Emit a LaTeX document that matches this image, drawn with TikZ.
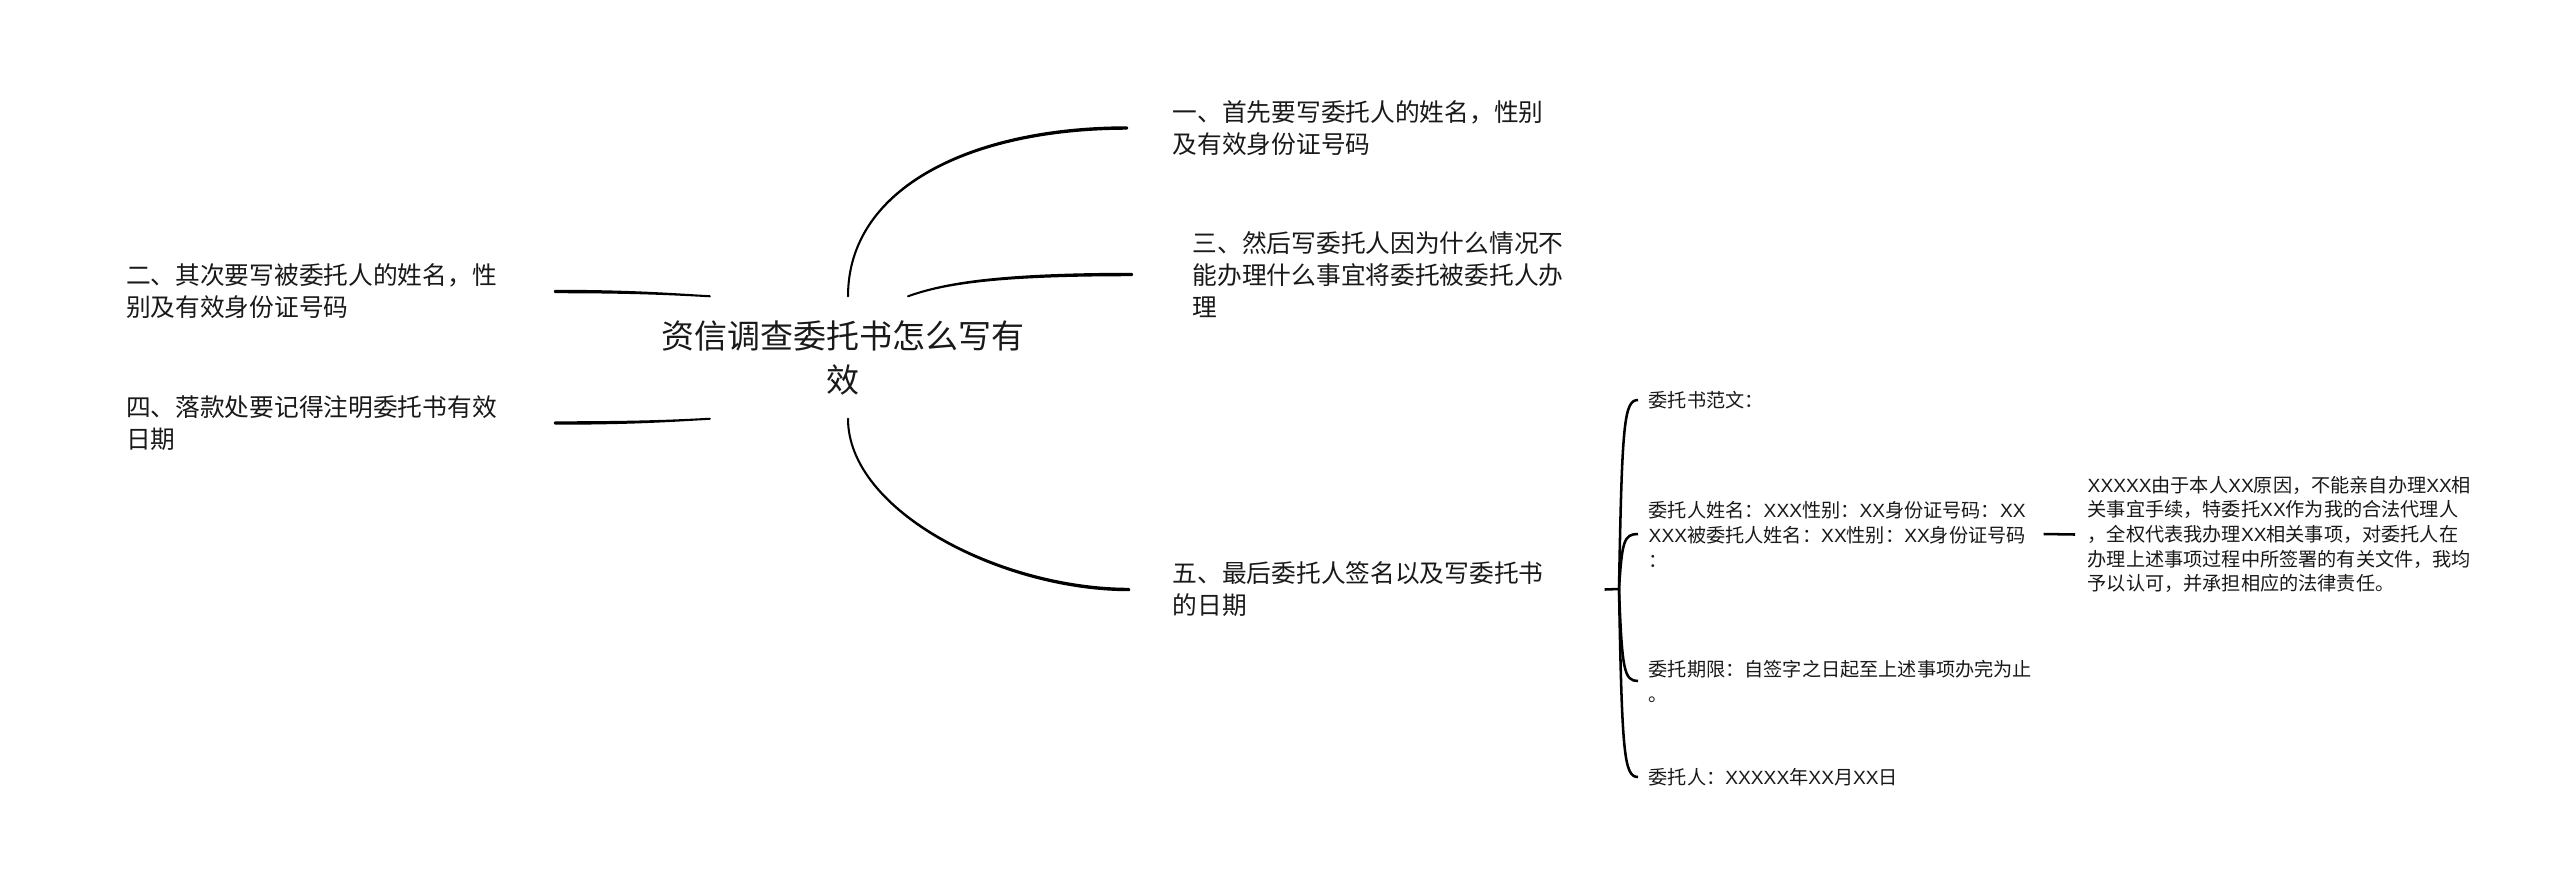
\documentclass[tikz,border=0pt]{standalone}
\usepackage{fontspec}
\setmainfont{Noto Sans CJK SC}
\newfontfamily\latf{Liberation Sans}
\newcommand{\xx}[1]{{\latf #1}}
\begin{document}
\begin{tikzpicture}[x=0.01cm,y=-0.01cm,
  txt/.style={inner ysep=0pt, align=left, text=black!90},
  big/.style={font=\fontsize{9.38pt}{12.5pt}\selectfont},
  mid/.style={font=\fontsize{7.03pt}{9.1pt}\selectfont},
  sml/.style={font=\fontsize{5.45pt}{7.1pt}\selectfont},
  conn/.style={line width=0.58pt, fill=black, line join=round},
  brace/.style={line width=0.72pt}]
\useasboundingbox[fill=white] (0,0) rectangle (2560,881);

% root
\node[txt, big, align=center, inner xsep=0pt, minimum height=1.21cm] (root) at (843,357.5) {资信调查委托书怎么写有\\效};

% right branches
\node[txt, mid, anchor=west, inner xsep=0.45cm, text width=3.75cm] (n1) at (1127,128) {一、首先要写委托人的姓名，性别\\及有效身份证号码};
\node[txt, mid, anchor=west, inner xsep=0.60cm, text width=3.75cm] (n3) at (1132,274.5) {三、然后写委托人因为什么情况不\\能办理什么事宜将委托被委托人办\\理};
\node[txt, mid, anchor=west, inner xsep=0.43cm, text width=3.72cm] (n5) at (1129,589.5) {五、最后委托人签名以及写委托书\\的日期};

% left branches
\node[txt, mid, anchor=east, inner xsep=0.56cm, text width=3.72cm] (n2) at (555,291.5) {二、其次要写被委托人的姓名，性\\别及有效身份证号码};
\node[txt, mid, anchor=east, inner xsep=0.56cm, text width=3.72cm] (n4) at (555,423) {四、落款处要记得注明委托书有效\\日期};

% sub items of 五
\coordinate (br) at (1619,589);
\node[txt, sml, anchor=west, inner xsep=0.10cm, text width=3.75cm] (s1) at (1638,400) {委托书范文：};
\node[txt, sml, anchor=west, inner xsep=0.10cm, text width=3.85cm] (s2) at (1638,534) {委托人姓名：\xx{XXX}性别：\xx{XX}身份证号码：\xx{XX}\\\xx{XXX}被委托人姓名：\xx{XX}性别：\xx{XX}身份证号码\\：};
\node[txt, sml, anchor=west, inner xsep=0.10cm, text width=3.90cm] (s3) at (1638,681) {委托期限：自签字之日起至上述事项办完为止\\。};
\node[txt, sml, anchor=west, inner xsep=0.10cm, text width=3.75cm] (s4) at (1638,777) {委托人：\xx{XXXXX}年\xx{XX}月\xx{XX}日};

% leaf
\node[txt, sml, anchor=west, inner xsep=0.12cm, text width=3.95cm, font=\fontsize{5.45pt}{7pt}\selectfont] (leaf) at (2075,534.5) {\xx{XXXXX}由于本人\xx{XX}原因，不能亲自办理\xx{XX}相\\关事宜手续，特委托\xx{XX}作为我的合法代理人\\，全权代表我办理\xx{XX}相关事项，对委托人在\\办理上述事项过程中所签署的有关文件，我均\\予以认可，并承担相应的法律责任。};

% main connectors (tapered: thin at the root, thicker at the child)
\filldraw[conn] ([xshift=0.05cm]root.north) .. controls (848,186.5) and (973.5,127.3) .. ([yshift=0.007cm]n1.west)
  -- ([yshift=-0.007cm]n1.west) .. controls (973.5,128.7) and (848,186.5) .. ([xshift=0.05cm]root.north) -- cycle;
\filldraw[conn] ([xshift=0.65cm]root.north) .. controls (945,283) and (1000,273.8) .. ([yshift=0.007cm]n3.west)
  -- ([yshift=-0.007cm]n3.west) .. controls (1000,275.2) and (945,283) .. ([xshift=0.65cm]root.north) -- cycle;
\filldraw[conn] ([xshift=0.05cm]root.south) .. controls (848,511.5) and (1002,588.8) .. ([yshift=0.007cm]n5.west)
  -- ([yshift=-0.007cm]n5.west) .. controls (1002,590.2) and (848,511.5) .. ([xshift=0.05cm]root.south) -- cycle;
\filldraw[conn] ([xshift=0.49cm]root.north west) .. controls (670,294) and (630,290.8) .. ([yshift=0.007cm]n2.east)
  -- ([yshift=-0.007cm]n2.east) .. controls (630,292.2) and (670,294) .. ([xshift=0.49cm]root.north west) -- cycle;
\filldraw[conn] ([xshift=0.49cm]root.south west) .. controls (670,421) and (630,422.3) .. ([yshift=0.007cm]n4.east)
  -- ([yshift=-0.007cm]n4.east) .. controls (630,423.7) and (670,421) .. ([xshift=0.49cm]root.south west) -- cycle;

% brace
\draw[brace] ([xshift=0.16cm]n5.east) -- (br);
\draw[brace] (br) .. controls (1622,423) and (1624,400) .. (s1.west);
\draw[brace] (br) .. controls (1622,541) and (1624,534) .. (s2.west);
\draw[brace] (br) .. controls (1622,670) and (1624,681) .. (s3.west);
\draw[brace] (br) .. controls (1622,754) and (1624,777) .. (s4.west);

% leaf connector
\draw[brace] ([xshift=-0.01cm]s2.east) -- (leaf.west);
\end{tikzpicture}
\end{document}
